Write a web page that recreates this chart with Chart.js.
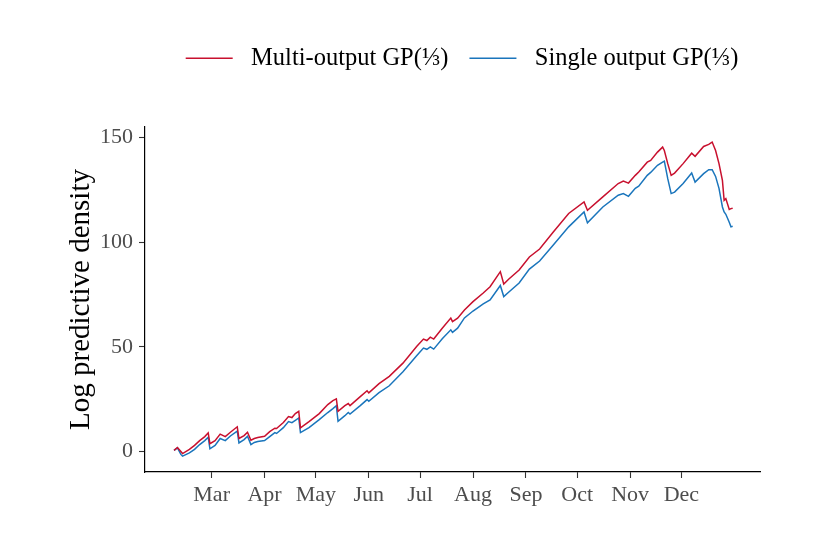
<!DOCTYPE html>
<html><head><meta charset="utf-8">
<script src="https://cdn.jsdelivr.net/npm/chart.js@4"></script>
<style>html,body{margin:0;padding:0;background:#fff}#wrap{width:831px;height:548px;position:relative}</style>
</head><body><div id="wrap"><canvas id="c"></canvas></div>
<script>
// days since 1 March
const days = [-22,-20,-18,-17,-13,-10,-7,-4,-2,-1,2,5,8,11,15,16,19,21,23,25,27,31,34,37,38,42,45,47,49,51,52,57,63,68,71,73,74,78,80,81,87,91,92,98,104,112,120,124,126,128,130,135,140,141,144,148,153,159,163,169,171,174,180,186,192,200,209,218,220,229,238,241,244,248,250,255,257,261,264,265,267,269,271,276,281,283,288,291,293,295,297,299,300,301,303,304,305];
const multiOutput = [0.5,1.9,0.0,-1.0,1.0,2.9,5.2,7.1,8.9,3.7,5.2,8.3,7.1,9.2,11.8,6.2,7.6,9.2,5.4,6.2,6.7,7.3,9.5,11.1,11.0,13.8,16.7,16.2,18.1,19.2,11.3,14.3,18.1,22.4,24.3,25.1,19.2,21.9,22.9,21.9,26.2,29.0,28.0,32.4,35.9,42.2,50.1,53.7,53.0,54.6,53.7,58.9,63.7,62.0,63.7,67.6,71.6,75.7,78.7,85.9,80.0,82.4,86.7,92.9,96.7,104.8,113.7,119.2,115.2,121.6,128.0,129.2,128.2,131.9,133.5,138.2,139.0,143.0,145.4,143.8,137.5,131.9,133.0,137.5,142.5,141.0,145.7,146.7,147.8,143.8,137.5,129.5,120.0,120.8,115.6,116.0,116.2];
const singleOutput = [0.5,1.7,-1.4,-2.2,-0.7,1.0,3.3,5.2,6.8,1.3,2.9,6.2,5.2,7.4,9.7,4.1,5.7,7.3,3.3,4.3,4.8,5.2,7.1,9.0,8.6,11.4,14.3,13.8,14.9,16.0,9.0,11.4,15.2,18.6,20.5,21.9,14.4,17.1,18.6,17.9,21.9,24.8,24.0,28.1,31.4,38.1,45.7,49.4,48.8,50.0,48.9,53.8,58.1,56.9,58.9,63.8,67.1,70.5,72.4,79.3,74.0,76.2,80.5,87.1,91.0,98.6,107.3,114.4,109.2,116.8,122.4,123.2,121.9,125.7,126.7,131.9,133.3,136.7,138.2,138.7,130.3,123.2,123.9,128.0,133.0,128.7,132.7,134.6,134.6,131.4,125.7,116.8,114.4,113.3,109.5,107.3,107.6];
const monthTicks = [0,31,61,92,122,153,184,214,245,275];
const monthLabels = ['Mar','Apr','May','Jun','Jul','Aug','Sep','Oct','Nov','Dec'];
const yTicks = [0,50,100,150];
const seriesNames = ['Multi-output GP(\u2153)', 'Single output GP(\u2153)'];
const seriesColors = ['#C8102E', '#1A75BC'];

const FONT = "'Liberation Serif', 'Times New Roman', serif";
const toPoints = ys => days.map((d, i) => ({x: d, y: ys[i]}));

const legendSpace = {
  id: 'legendSpace',
  beforeInit(chart) {
    const lg = chart.legend;
    const fit = lg.fit;
    lg.fit = function () { fit.call(this); this.height = 102; };
  },
  afterLayout(chart) {
    chart.legend.left += 50;
    chart.legend.right += 50;
  }
};

new Chart(document.getElementById('c'), {
  type: 'line',
  data: {
    datasets: [
      {label: seriesNames[0], data: toPoints(multiOutput), borderColor: seriesColors[0], backgroundColor: seriesColors[0], borderWidth: 1.5, pointRadius: 0, tension: 0},
      {label: seriesNames[1], data: toPoints(singleOutput), borderColor: seriesColors[1], backgroundColor: seriesColors[1], borderWidth: 1.5, pointRadius: 0, tension: 0}
    ]
  },
  options: {
    responsive: true,
    maintainAspectRatio: false,
    animation: false,
    layout: {padding: {left: 64, right: 71, top: 25, bottom: 0}},
    plugins: {
      tooltip: {enabled: false},
      legend: {
        position: 'top',
        align: 'center',
        labels: {
          usePointStyle: true,
          pointStyle: 'line',
          pointStyleWidth: 47,
          color: '#000',
          padding: 21,
          font: {family: FONT, size: 24.5},
          generateLabels(chart) {
            return Chart.defaults.plugins.legend.labels.generateLabels(chart).map(l => Object.assign(l, {text: ' ' + l.text}));
          }
        }
      }
    },
    scales: {
      x: {
        type: 'linear',
        min: -39, max: 321,
        afterFit(s) { s.height = 76; },
        afterBuildTicks(s) { s.ticks = monthTicks.map(v => ({value: v})); },
        ticks: {
          callback: v => monthLabels[monthTicks.indexOf(v)],
          autoSkip: false, maxRotation: 0, color: '#4d4d4d', padding: 4,
          font: {family: FONT, size: 22}
        },
        grid: {drawOnChartArea: false, drawTicks: true, tickLength: 6, tickColor: '#333', tickWidth: 1.1},
        border: {display: true, color: '#000', width: 1.2}
      },
      y: {
        type: 'linear',
        min: -9.8, max: 155,
        afterFit(s) { s.width = 81; },
        afterBuildTicks(s) { s.ticks = yTicks.map(v => ({value: v})); },
        ticks: {color: '#4d4d4d', padding: 6, font: {family: FONT, size: 22}},
        grid: {drawOnChartArea: false, drawTicks: true, tickLength: 6, tickColor: '#333', tickWidth: 1.1},
        border: {display: true, color: '#000', width: 1.2},
        title: {display: true, text: 'Log predictive density', color: '#000', padding: 0, font: {family: FONT, size: 29}}
      }
    }
  },
  plugins: [legendSpace]
});
</script></body></html>
